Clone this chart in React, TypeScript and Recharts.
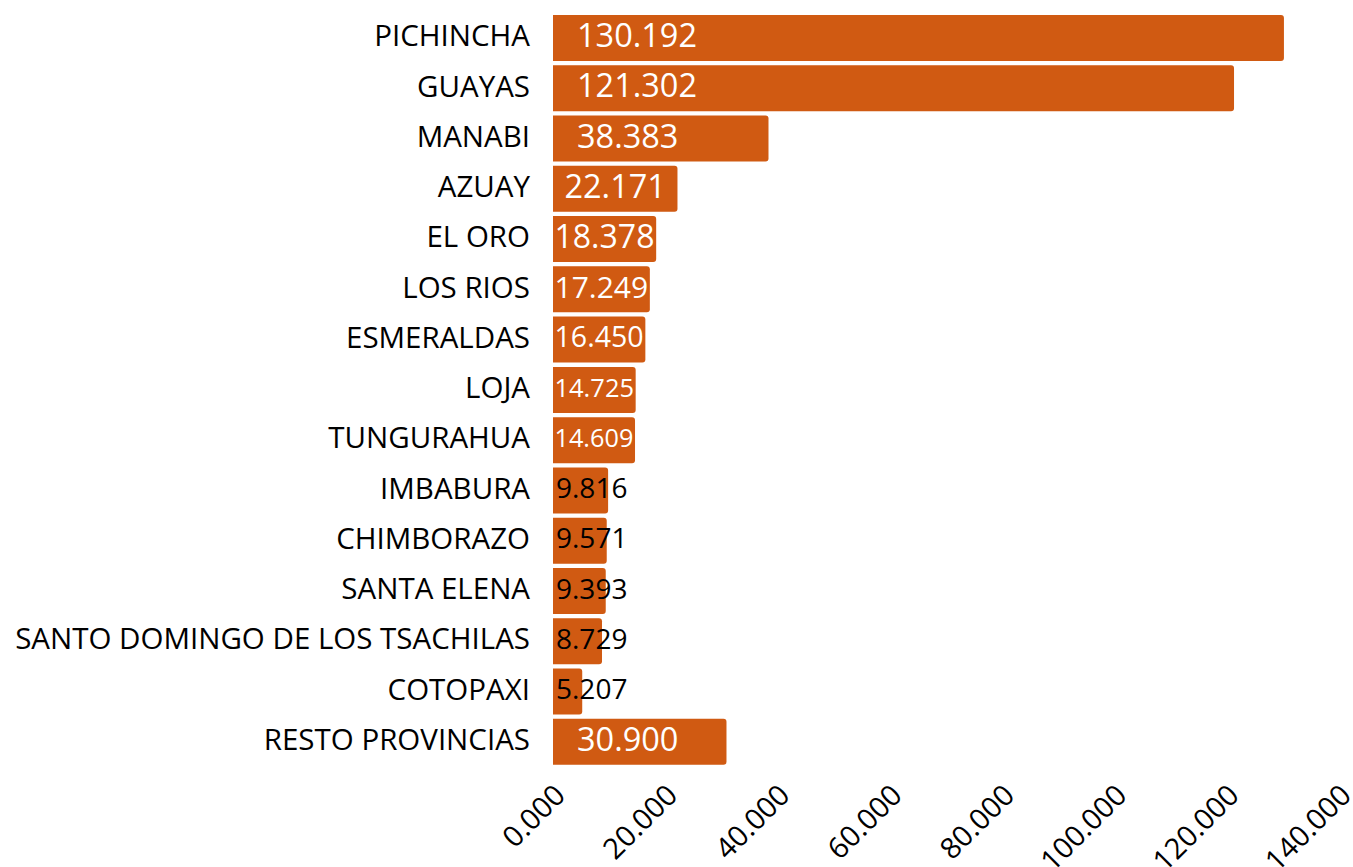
import { BarChart, Bar, XAxis, YAxis, LabelList } from "recharts";

const provincias = [
  "PICHINCHA",
  "GUAYAS",
  "MANABI",
  "AZUAY",
  "EL ORO",
  "LOS RIOS",
  "ESMERALDAS",
  "LOJA",
  "TUNGURAHUA",
  "IMBABURA",
  "CHIMBORAZO",
  "SANTA ELENA",
  "SANTO DOMINGO DE LOS TSACHILAS",
  "COTOPAXI",
  "RESTO PROVINCIAS",
];

const casos = [
  130.192, 121.302, 38.383, 22.171, 18.378, 17.249, 16.45, 14.725, 14.609,
  9.816, 9.571, 9.393, 8.729, 5.207, 30.9,
];

const xTicks = [0, 20, 40, 60, 80, 100, 120, 140];

const FONT = "Open Sans";
const COLOR = "#D05A12";

const data = provincias.map((p, i) => ({ provincia: p, casos: casos[i] }));

// approx Open Sans advance width (em) of a formatted number
function textEm(s: string) {
  let w = 0;
  for (const c of s) w += c === "." ? 0.267 : 0.572;
  return w;
}

function BarValue(props: any) {
  const { x, y, width, height, value } = props;
  const txt = Number(value).toFixed(3);
  const em = textEm(txt);
  const fit = (width - 3) / em;
  const cy = y + height / 2 - 2.5;
  if (fit >= 24) {
    const fs = Math.min(32.5, fit);
    const tw = em * fs;
    const tx = x + Math.min(24, Math.max(0, (width - tw) / 2));
    return (
      <text x={tx} y={cy + fs * 0.36} fill="#fff" fontSize={fs} fontFamily={FONT}>
        {txt}
      </text>
    );
  }
  const fs = 28;
  return (
    <text x={x + 3} y={cy + fs * 0.36} fill="#000" fontSize={fs} fontFamily={FONT}>
      {txt}
    </text>
  );
}

function XTick(props: any) {
  const { x, y, payload } = props;
  const ax = x + 14;
  const ay = y + 30;
  return (
    <text
      x={ax}
      y={ay}
      textAnchor="end"
      fontSize={29}
      fontFamily={FONT}
      fill="#000"
      transform={`rotate(-45, ${ax}, ${ay})`}
    >
      {Number(payload.value).toFixed(3)}
    </text>
  );
}

function YTick(props: any) {
  const { x, y, payload } = props;
  return (
    <text x={x} y={y - 2.5 + 29.5 * 0.36} textAnchor="end" fontSize={29.5} fontFamily={FONT} fill="#000">
      {payload.value}
    </text>
  );
}

export default function App() {
  return (
    <div style={{ position: "absolute", left: 0, top: 0, width: 1353, height: 867, background: "#fff" }}>
      <BarChart
        width={1353}
        height={867}
        layout="vertical"
        data={data}
        margin={{ top: 13, right: 14, bottom: 0, left: 0 }}
        barCategoryGap="4%"
      >
        <XAxis
          type="number"
          domain={[0, 140]}
          ticks={xTicks}
          axisLine={false}
          tickLine={false}
          tickSize={0}
          tickMargin={0}
          height={100}
          tick={<XTick />}
          interval={0}
        />
        <YAxis
          type="category"
          dataKey="provincia"
          width={553}
          axisLine={false}
          tickLine={false}
          tickSize={0}
          tickMargin={23}
          interval={0}
          tick={<YTick />}
        />
        <Bar dataKey="casos" fill={COLOR} radius={[0, 3, 3, 0]} isAnimationActive={false}>
          <LabelList dataKey="casos" content={<BarValue />} />
        </Bar>
      </BarChart>
    </div>
  );
}
